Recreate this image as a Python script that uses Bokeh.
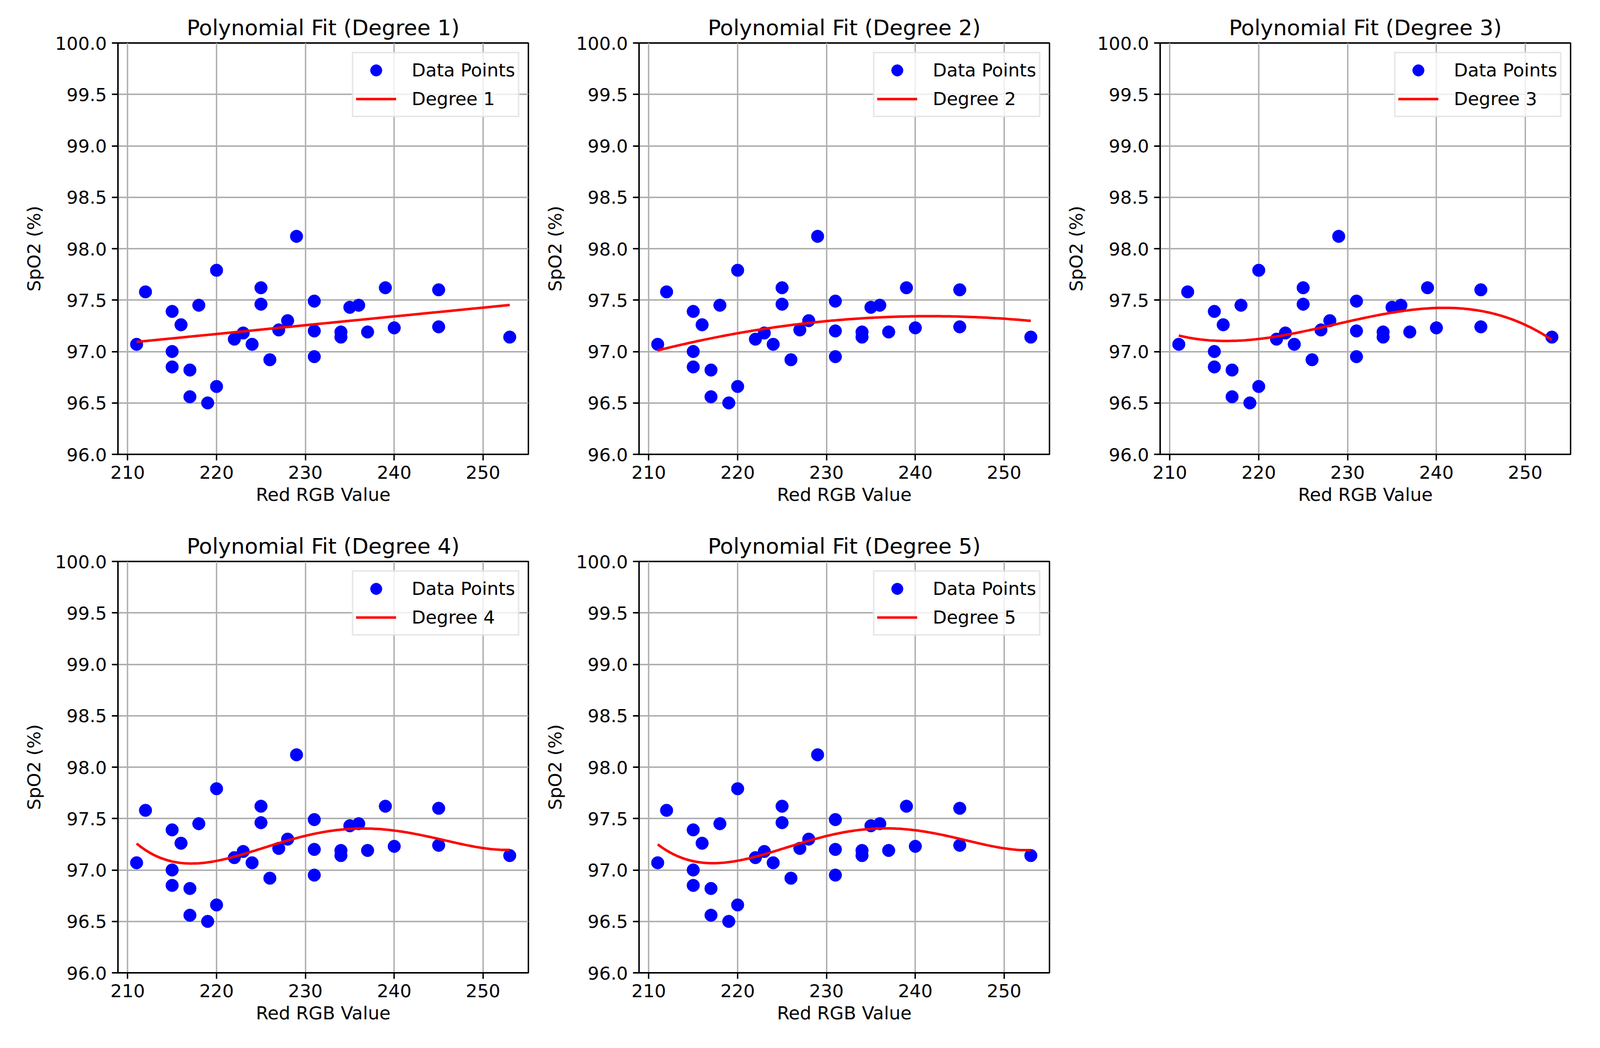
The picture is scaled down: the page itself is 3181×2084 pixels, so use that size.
import numpy as np
from bokeh.plotting import figure
from bokeh.layouts import gridplot
from bokeh.models import FixedTicker, PrintfTickFormatter, Range1d
from bokeh.embed import file_html
from bokeh.resources import INLINE

# ---- data ----
red_rgb = [211, 212, 215, 215, 215, 216, 217, 217, 218, 219, 220, 220,
           222, 223, 224, 225, 225, 226, 227, 228, 229, 231, 231, 231,
           234, 234, 235, 236, 237, 239, 240, 245, 245, 253]
spo2 = [97.07, 97.58, 97.39, 97.00, 96.85, 97.26, 96.82, 96.56, 97.45, 96.50, 97.79, 96.66,
        97.12, 97.18, 97.07, 97.62, 97.46, 96.92, 97.21, 97.30, 98.12, 97.49, 97.20, 96.95,
        97.19, 97.14, 97.43, 97.45, 97.19, 97.62, 97.23, 97.60, 97.24, 97.14]
degrees = [1, 2, 3, 4, 5]
x_ticks = [210, 220, 230, 240, 250]
y_ticks = [96.0, 96.5, 97.0, 97.5, 98.0, 98.5, 99.0, 99.5, 100.0]
x_label = "Red RGB Value"
y_label = "SpO2 (%)"

FONT = "DejaVu Sans"
xs = np.array(red_rgb, dtype=float)
ys = np.array(spo2, dtype=float)
x_line = np.linspace(xs.min(), xs.max(), 200)


def poly_fit_line(deg):
    """Least squares on the raw (unscaled) power basis with centred columns,
    singular values below eps * s_max treated as zero (as a typical
    PolynomialFeatures + LinearRegression pipeline does)."""
    X = np.vstack([xs ** k for k in range(1, deg + 1)]).T
    xmean = X.mean(axis=0)
    ymean = ys.mean()
    Xc = X - xmean
    yc = ys - ymean
    U, s, Vt = np.linalg.svd(Xc, full_matrices=False)
    keep = s > np.finfo(float).eps * s[0]
    coef = Vt[keep].T @ ((U[:, keep].T @ yc) / s[keep])
    intercept = ymean - xmean @ coef
    XL = np.vstack([x_line ** k for k in range(1, deg + 1)]).T
    return intercept + XL @ coef


def make_panel(deg, col, row):
    left = 234 if col == 0 else 215
    p = figure(frame_width=816, frame_height=818, output_backend="svg",
               toolbar_location=None,
               x_range=Range1d(208.9, 255.1), y_range=Range1d(96.0, 100.0),
               min_border_left=left, min_border_right=5,
               min_border_top=85, min_border_bottom=128,
               title=f"Polynomial Fit (Degree {deg})")
    p.title.text_font = FONT
    p.title.text_font_size = "43px"
    p.title.text_font_style = "normal"
    p.title.align = "center"
    p.title.text_color = "black"
    p.title.standoff = 12

    p.outline_line_color = "black"
    p.outline_line_width = 2.8
    p.outline_line_alpha = 1.0

    for ax in (p.xaxis[0], p.yaxis[0]):
        ax.axis_line_color = "black"
        ax.axis_line_width = 2.8
        ax.major_tick_line_color = "black"
        ax.major_tick_line_width = 2.8
        ax.major_tick_out = 12
        ax.major_tick_in = 0
        ax.minor_tick_line_color = None
        ax.major_label_text_font = FONT
        ax.major_label_text_font_size = "36px"
        ax.major_label_text_color = "black"
        ax.axis_label_text_font = FONT
        ax.axis_label_text_font_size = "36px"
        ax.axis_label_text_font_style = "normal"
        ax.axis_label_text_color = "black"
        ax.major_label_standoff = 10

    p.xaxis.ticker = FixedTicker(ticks=x_ticks)
    p.yaxis.ticker = FixedTicker(ticks=y_ticks)
    p.yaxis.formatter = PrintfTickFormatter(format="%.1f")
    p.xaxis.axis_label = x_label
    p.yaxis.axis_label = y_label
    p.xaxis.axis_label_standoff = 8
    p.yaxis.axis_label_standoff = 18

    p.xgrid.ticker = FixedTicker(ticks=x_ticks)
    p.ygrid.ticker = FixedTicker(ticks=y_ticks)
    for g in (p.xgrid[0], p.ygrid[0]):
        g.grid_line_color = "#b0b0b0"
        g.grid_line_width = 2.8

    p.scatter(red_rgb, spo2, size=25, color="blue", line_color="blue",
              legend_label="Data Points")

    p.line(x_line, poly_fit_line(deg), line_color="red", line_width=5,
           legend_label=f"Degree {deg}")

    lg = p.legend[0]
    lg.location = "top_right"
    lg.margin = 18
    lg.padding = 5
    lg.spacing = 0
    lg.glyph_width = 80
    lg.glyph_height = 57
    lg.label_height = 57
    lg.label_standoff = 31
    lg.label_text_font = FONT
    lg.label_text_font_size = "36px"
    lg.label_text_color = "black"
    lg.border_line_color = "#d0d0d0"
    lg.border_line_width = 3
    lg.background_fill_color = "white"
    lg.background_fill_alpha = 0.8
    return p


panels = [make_panel(d, i % 3, i // 3) for i, d in enumerate(degrees)]
grid = gridplot([[panels[0], panels[1], panels[2]],
                 [panels[3], panels[4], None]],
                toolbar_location=None)

open("out.html", "w").write(file_html(grid, INLINE))
